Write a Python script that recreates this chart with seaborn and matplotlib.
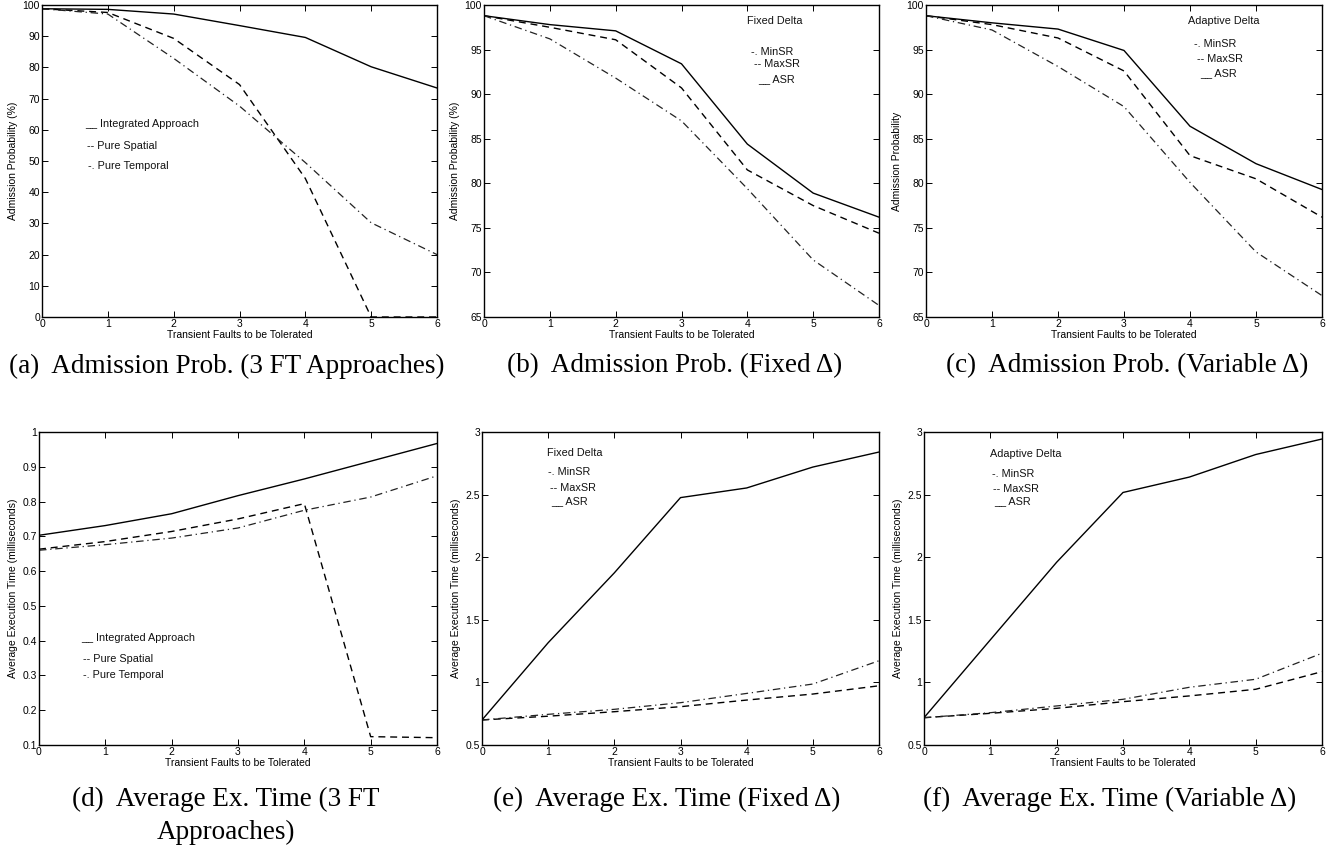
import pandas as pd
import matplotlib
matplotlib.use('Agg')
import matplotlib.pyplot as plt
import seaborn as sns

# x axis: number of transient faults
faults = [0, 1, 2, 3, 4, 5, 6]

# (a) admission probability, 3 FT approaches (%)
a_integrated = [98.8, 98.6, 97.1, 93.4, 89.6, 80.2, 73.4]
a_spatial = [98.8, 97.6, 89.3, 74.5, 44.4, 0.0, 0.0]
a_temporal = [98.8, 97.1, 82.9, 67.6, 49.5, 30.2, 20.0]

# (b) admission probability, fixed delta (%)
b_asr = [98.8, 97.8, 97.1, 93.4, 84.4, 78.9, 76.2]
b_maxsr = [98.8, 97.5, 96.1, 90.7, 81.5, 77.5, 74.4]
b_minsr = [98.8, 96.2, 91.8, 87.0, 79.4, 71.4, 66.3]

# (c) admission probability, adaptive delta
c_asr = [98.8, 98.0, 97.3, 94.9, 86.4, 82.2, 79.3]
c_maxsr = [98.8, 97.8, 96.3, 92.6, 83.1, 80.5, 76.2]
c_minsr = [98.8, 97.2, 93.1, 88.6, 80.1, 72.3, 67.4]

# (d) average execution time, 3 FT approaches (ms)
d_integrated = [0.703, 0.731, 0.765, 0.817, 0.865, 0.916, 0.967]
d_spatial = [0.663, 0.685, 0.714, 0.750, 0.794, 0.124, 0.121]
d_temporal = [0.660, 0.676, 0.695, 0.724, 0.775, 0.813, 0.874]

# (e) average execution time, fixed delta (ms)
e_asr = [0.70, 1.317, 1.875, 2.476, 2.553, 2.72, 2.84]
e_minsr = [0.70, 0.745, 0.785, 0.838, 0.912, 0.987, 1.173]
e_maxsr = [0.70, 0.730, 0.766, 0.806, 0.859, 0.907, 0.973]

# (f) average execution time, adaptive delta (ms)
f_asr = [0.718, 1.34, 1.96, 2.517, 2.64, 2.82, 2.944]
f_minsr = [0.718, 0.758, 0.812, 0.865, 0.961, 1.025, 1.233]
f_maxsr = [0.718, 0.753, 0.793, 0.846, 0.892, 0.945, 1.086]

xlabel = 'Transient Faults to be Tolerated'
captions = ['(a)  Admission Prob. (3 FT Approaches)',
            '(b)  Admission Prob. (Fixed \u0394)',
            '(c)  Admission Prob. (Variable \u0394)',
            '(d)  Average Ex. Time (3 FT',
            '(e)  Average Ex. Time (Fixed \u0394)',
            '(f)  Average Ex. Time (Variable \u0394)']

sns.set_style('ticks')
plt.rcParams['font.family'] = ['Liberation Sans', 'DejaVu Sans']
plt.rcParams['xtick.direction'] = 'in'
plt.rcParams['ytick.direction'] = 'in'
plt.rcParams['text.color'] = 'black'
plt.rcParams['axes.labelcolor'] = 'black'

W, H = 1335, 847
fig = plt.figure(figsize=(W / 100, H / 100), dpi=100)


def add_ax(left, top, width, height):
    return fig.add_axes([left / W, 1 - (top + height) / H, width / W, height / H])


axes = [add_ax(42, 5, 395, 312), add_ax(484, 5, 395, 312), add_ax(926, 5, 396, 312),
        add_ax(39, 432, 398, 313), add_ax(482, 432, 397, 313), add_ax(924, 432, 398, 313)]

solid = dict(color='black', lw=1.0, linestyle='-')
dashed = dict(color='black', lw=1.0, linestyle=(0, (5, 3.5)))
dashdot = dict(color='#222222', lw=0.9, linestyle=(0, (6, 3, 1, 3)))

panels = [
    [(a_integrated, solid), (a_spatial, dashed), (a_temporal, dashdot)],
    [(b_asr, solid), (b_maxsr, dashed), (b_minsr, dashdot)],
    [(c_asr, solid), (c_maxsr, dashed), (c_minsr, dashdot)],
    [(d_integrated, solid), (d_spatial, dashed), (d_temporal, dashdot)],
    [(e_asr, solid), (e_maxsr, dashed), (e_minsr, dashdot)],
    [(f_asr, solid), (f_maxsr, dashed), (f_minsr, dashdot)],
]

ylims = [(0, 100), (65, 100), (65, 100), (0.1, 1), (0.5, 3), (0.5, 3)]
ystep = [10, 5, 5, 0.1, 0.5, 0.5]
ylabels = ['Admission Probability (%)', 'Admission Probability (%)', 'Admission Probability',
           'Average Execution Time (milliseconds)', 'Average Execution Time (milliseconds)',
           'Average Execution Time (milliseconds)']

fs = 7.5
for i, ax in enumerate(axes):
    for vals, style in panels[i]:
        df = pd.DataFrame({'x': faults, 'y': vals})
        sns.lineplot(data=df, x='x', y='y', ax=ax, **style)
    ax.set_xlim(0, 6)
    ax.set_ylim(*ylims[i])
    lo, hi = ylims[i]
    n = int(round((hi - lo) / ystep[i]))
    ticks = [lo + k * ystep[i] for k in range(n + 1)]
    ax.set_yticks(ticks)
    ax.set_yticklabels(['%g' % round(t, 2) for t in ticks])
    ax.set_xticks(faults)
    ax.tick_params(top=True, right=True, length=4, width=0.7, labelsize=fs, pad=1.5, colors='black')
    for s in ax.spines.values():
        s.set_linewidth(1.0)
        s.set_color('black')
    ax.set_xlabel(xlabel, fontsize=fs, labelpad=1)
    ax.set_ylabel(ylabels[i], fontsize=fs, labelpad=3)

# hand written legend texts as in the original
tk = dict(fontsize=7.8, color='#111111')
axes[0].text(0.66, 61, '__ Integrated Approach', **tk)
axes[0].text(0.68, 54, '-- Pure Spatial', **tk)
axes[0].text(0.70, 47.5, '-. Pure Temporal', **tk)

axes[1].text(4.0, 97.9, 'Fixed Delta', **tk)
axes[1].text(4.05, 94.4, '-. MinSR', **tk)
axes[1].text(4.1, 93.0, '-- MaxSR', **tk)
axes[1].text(4.16, 91.3, '__ ASR', **tk)

axes[2].text(3.97, 97.9, 'Adaptive Delta', **tk)
axes[2].text(4.06, 95.3, '-. MinSR', **tk)
axes[2].text(4.1, 93.6, '-- MaxSR', **tk)
axes[2].text(4.16, 92.0, '__ ASR', **tk)

axes[3].text(0.64, 0.40, '__ Integrated Approach', **tk)
axes[3].text(0.66, 0.34, '-- Pure Spatial', **tk)
axes[3].text(0.67, 0.292, '-. Pure Temporal', **tk)

axes[4].text(0.98, 2.81, 'Fixed Delta', **tk)
axes[4].text(1.0, 2.66, '-. MinSR', **tk)
axes[4].text(1.03, 2.53, '-- MaxSR', **tk)
axes[4].text(1.05, 2.42, '__ ASR', **tk)

axes[5].text(1.0, 2.80, 'Adaptive Delta', **tk)
axes[5].text(1.02, 2.64, '-. MinSR', **tk)
axes[5].text(1.04, 2.52, '-- MaxSR', **tk)
axes[5].text(1.06, 2.42, '__ ASR', **tk)

# sub-figure captions
cap = dict(fontsize=19.5, family=['Liberation Serif', 'DejaVu Serif'], ha='center', va='center',
           color='black')
cap_pos = [(227, 366), (675, 366), (1127, 366), (226, 799), (667, 799), (1110, 799)]
for txt, (px, py) in zip(captions, cap_pos):
    fig.text(px / W, 1 - py / H, txt, **cap)
fig.text(226 / W, 1 - 832 / H, 'Approaches)', **cap)

fig.savefig('out.png', dpi=100, facecolor='white')
